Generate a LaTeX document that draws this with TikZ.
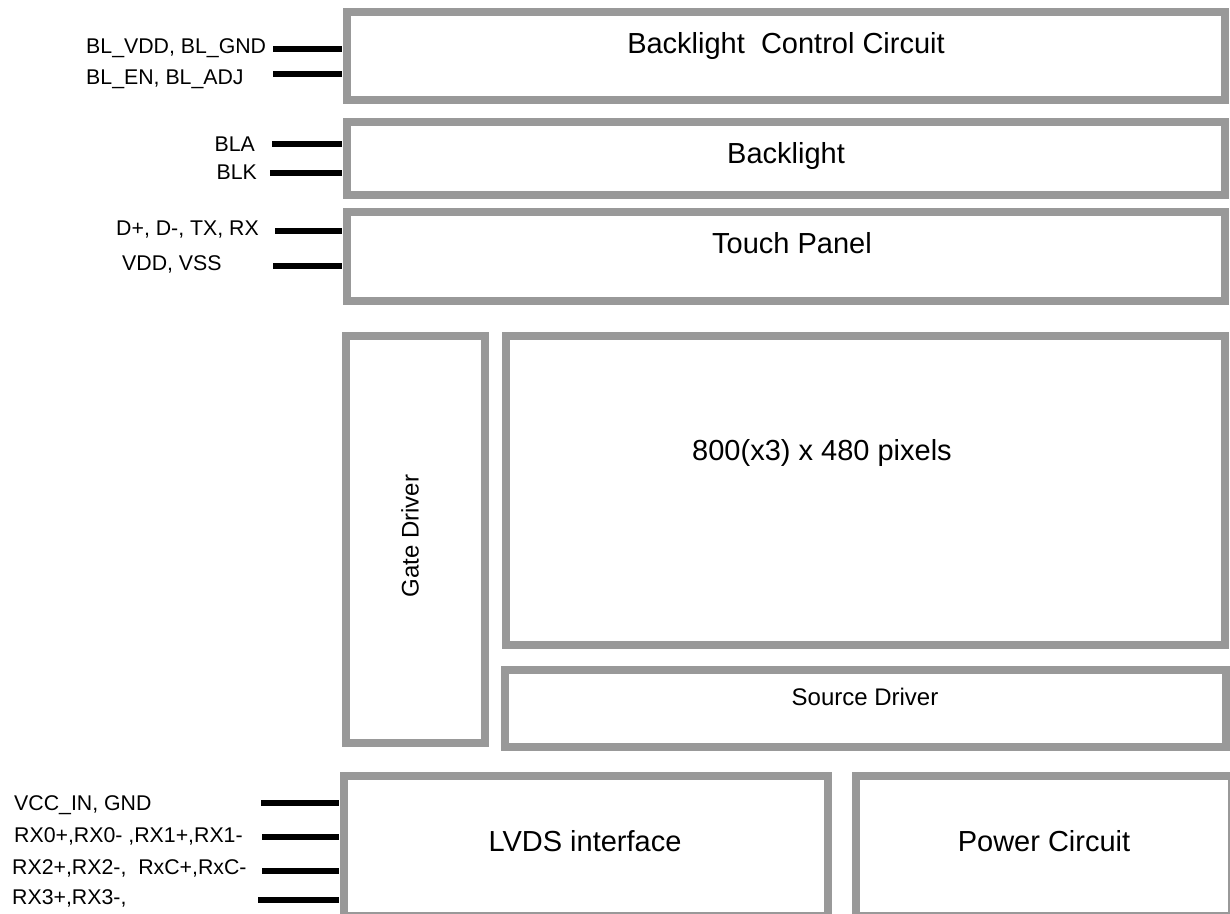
\documentclass[tikz,border=0pt]{standalone}
\usepackage{fontspec}
\setmainfont{Liberation Sans}
\definecolor{blockGray}{RGB}{153,153,153}
\newcommand\blockColor{blockGray}
\newcommand\blockLineWidth{7.5pt}
\newcommand\pinColor{black}
\newcommand\pinLineWidth{6pt}
\newcommand\titleSize{\fontsize{29}{34}\selectfont}
\newcommand\pinTextSize{\fontsize{21.3}{25}\selectfont}
\newcommand\driverSize{\fontsize{24}{28}\selectfont}
\tikzset{
    block/.style={draw=\blockColor, line width=\blockLineWidth, shape=rectangle, inner sep=0pt, anchor=center},
    pin/.style={draw=\pinColor, line width=\pinLineWidth, shorten >=1.5pt},
    title/.style={font=\titleSize, inner sep=0pt, anchor=base},
    pintext/.style={font=\pinTextSize, inner sep=0pt},
}

\begin{document}
\begin{tikzpicture}[x=1pt, y=-1pt]
    \useasboundingbox (0,0) rectangle (1230,913);

    % the blocks of the module
    \node [block, minimum width=878pt, minimum height=88pt] (Block_Control) at (786,56) {};
    \node [block, minimum width=878pt, minimum height=73pt] (Block_Backlight) at (786,158.5) {};
    \node [block, minimum width=878pt, minimum height=89pt] (Block_Touch) at (786,256.5) {};
    \node [block, minimum width=139pt, minimum height=407pt] (Block_Gate) at (415.5,539.5) {};
    \node [block, minimum width=719pt, minimum height=309pt] (Block_Pixels) at (865.5,490.5) {};
    \node [block, minimum width=721pt, minimum height=77pt] (Block_Source) at (865.5,708.5) {};
    % the two lower blocks run past the edge of the picture
    \node [block, minimum width=484pt, minimum height=140pt] (Block_LVDS) at (586,846) {};
    \node [block, minimum width=376pt, minimum height=140pt] (Block_Power) at (1044,846) {};

    \node [title] (Text_Control) at (786,53) {Backlight\ \ Control Circuit};
    \node [title] (Text_Backlight) at (786,163) {Backlight};
    \node [title] (Text_Touch) at (792,253) {Touch Panel};
    \node [title] (Text_Pixels) at (822,460) {800(x3) x 480 pixels};
    \node [font=\driverSize, inner sep=0pt, rotate=90] (Text_Gate) at (410,536) {Gate Driver};
    \node [title, font=\driverSize] (Text_Source) at (865,705) {Source Driver};
    \node [title] (Text_LVDS) at (585,851) {LVDS interface};
    \node [title] (Text_Power) at (1044,851) {Power Circuit};

    % pins going into the blocks
    \foreach \pinName/\pinX/\pinY/\blockName in {BLVDD/273/49/Control, BLEN/273/74/Control,
            BLA/272/144/Backlight, BLK/270/173/Backlight, DP/275/231/Touch, VDD/273/266/Touch,
            VCC/261/803/LVDS, RXA/262/837/LVDS, RXB/262/871/LVDS, RXC/258/900/LVDS}{
        \coordinate (Pin_\pinName) at (\pinX,\pinY);
        \draw [pin] (Pin_\pinName) -- (Pin_\pinName -| Block_\blockName.west);
    }

    \node [pintext, anchor=base west] (Label_BLVDD) at (86,53) {BL\_VDD, BL\_GND};
    \node [pintext, anchor=base west] (Label_BLEN) at (86,84) {BL\_EN, BL\_ADJ};
    \node [pintext, anchor=base east] (Label_BLA) at (255,151) {BLA};
    \node [pintext, anchor=base east] (Label_BLK) at (257,179) {BLK};
    \node [pintext, anchor=base east] (Label_DP) at (259,235) {D+, D-, TX, RX};
    \node [pintext, anchor=base west] (Label_VDD) at (122,270) {VDD, VSS};
    \node [pintext, anchor=base west] (Label_VCC) at (14,810) {VCC\_IN, GND};
    \node [pintext, anchor=base west] (Label_RXA) at (14,842) {RX0+,RX0- ,RX1+,RX1-};
    \node [pintext, anchor=base west] (Label_RXB) at (12,874) {RX2+,RX2-,\ \ RxC+,RxC-};
    \node [pintext, anchor=base west] (Label_RXC) at (12,904) {RX3+,RX3-,};

\end{tikzpicture}
\end{document}
